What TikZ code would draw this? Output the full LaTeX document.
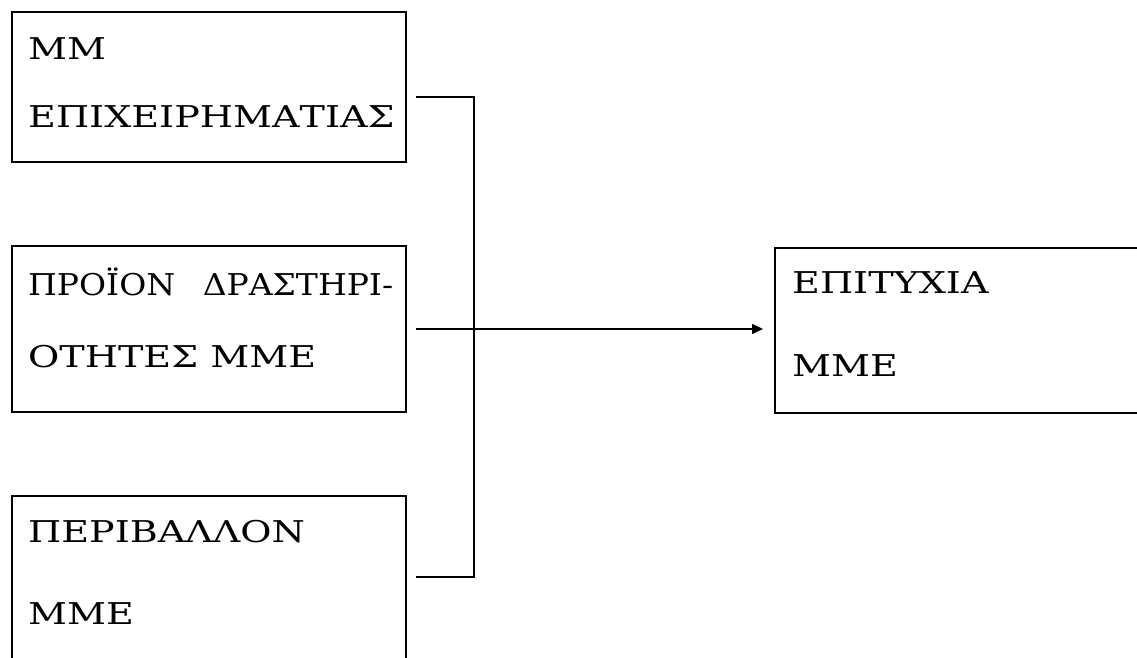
\documentclass[tikz,border=0pt]{standalone}
\usepackage{fontspec}
\setmainfont{DejaVu Serif}[FakeStretch=1.27]
\newfontfamily\narrowserif{DejaVu Serif}[FakeStretch=1.1]
\usetikzlibrary{arrows.meta,calc}

\begin{document}
\begin{tikzpicture}[x=1pt, y=1pt,
    factor/.style={draw, line width=1.8pt, minimum width=394pt, anchor=north west, inner sep=0pt, outer sep=0pt},
    txt/.style={anchor=base west, inner sep=0pt, font=\fontsize{30}{36}\selectfont},
    link/.style={line width=1.5pt},
    arrow/.style={-{Triangle[length=11pt,width=10pt]}, line width=1.5pt}
  ]
    \path[use as bounding box, clip] (0,0) rectangle (1137,658);

    % the three factors
    \node[factor, minimum height=150pt] (mmEpix) at (12,646) {};
    \node[factor, minimum height=166pt] (proion) at (12,412) {};
    \node[factor, minimum height=240pt] (periv) at (12,162) {};
    % the outcome
    \node[factor, minimum width=400pt, minimum height=165pt] (epit) at (775,410) {};

    \node[txt] (mmEpixA) at (28,598) {ΜΜ};
    \node[txt] (mmEpixB) at (28,530) {ΕΠΙΧΕΙΡΗΜΑΤΙΑΣ};
    \node[txt, font=\narrowserif\fontsize{30}{36}\selectfont] (proionA) at (28,362) {\makebox[365pt][l]{ΠΡΟΪΟΝ\hfill ΔΡΑΣΤΗΡΙ-}};
    \node[txt] (proionB) at (28,290) {ΟΤΗΤΕΣ ΜΜΕ};
    \node[txt] (perivA) at (28,115) {ΠΕΡΙΒΑΛΛΟΝ};
    \node[txt] (perivB) at (28,33) {ΜΜΕ};
    \node[txt] (epitA) at (792,364) {ΕΠΙΤΥΧΙΑ};
    \node[txt] (epitB) at (792,281) {ΜΜΕ};

    \coordinate (inTop) at ($(mmEpix.north east)+(10,-85)$);
    \coordinate (inBot) at ($(periv.north east)+(10,-81)$);
    \draw[link] (inTop) -- ++(58,0) |- (inBot);
    \draw[arrow, shorten <=10pt, shorten >=12pt] (proion.east) -- (proion.east -| epit.west);
\end{tikzpicture}
\end{document}
